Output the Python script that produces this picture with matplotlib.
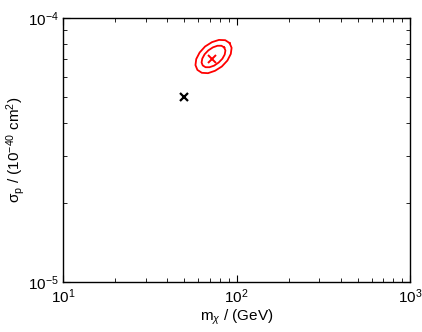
import matplotlib
matplotlib.use("Agg")
import matplotlib.pyplot as plt

plt.rcParams['font.family'] = ['Liberation Sans', 'DejaVu Sans']
plt.rcParams['mathtext.fontset'] = 'custom'
plt.rcParams['mathtext.rm'] = 'Liberation Sans'
plt.rcParams['mathtext.it'] = 'Liberation Sans:italic'
plt.rcParams['mathtext.sf'] = 'Liberation Sans'

# benchmark point (black) and best fit (red)
bench_m = [50.0]
bench_sigma = [5.0e-5]
fit_m = [72.0]
fit_sigma = [7.0e-5]

# contour vertices (m in GeV, sigma in 1e-40 cm^2)
outer_m = [91.2, 86.1, 79.2, 72.2, 65.9, 61.3, 58.6, 58.0,
           59.5, 63.1, 68.5, 75.2, 82.3, 88.6, 92.7, 93.7]
outer_sigma = [8.04e-5, 8.24e-5, 8.26e-5, 8.10e-5, 7.80e-5, 7.40e-5, 6.99e-5, 6.63e-5,
               6.36e-5, 6.20e-5, 6.18e-5, 6.31e-5, 6.55e-5, 6.90e-5, 7.31e-5, 7.71e-5]
inner_m = [85.0, 81.9, 77.7, 73.1, 68.8, 65.5, 63.5, 62.9,
           63.9, 66.3, 69.9, 74.3, 78.9, 82.9, 85.5, 86.3]
inner_sigma = [7.73e-5, 7.85e-5, 7.85e-5, 7.74e-5, 7.54e-5, 7.29e-5, 7.02e-5, 6.78e-5,
               6.61e-5, 6.51e-5, 6.51e-5, 6.60e-5, 6.78e-5, 7.01e-5, 7.27e-5, 7.53e-5]

fig = plt.figure(figsize=(4.22, 3.32), dpi=100)
ax = fig.add_axes([0.1493, 0.1506, 0.8223, 0.7952])

for xs, ys in [(outer_m, outer_sigma), (inner_m, inner_sigma)]:
    ax.plot(xs + xs[:1], ys + ys[:1], color='red', lw=1.3)

ax.plot(fit_m, fit_sigma, 'x', color='red', ms=6, mew=1.4)
ax.plot(bench_m, bench_sigma, 'x', color='black', ms=6, mew=1.6)

ax.set_xscale('log')
ax.set_yscale('log')
ax.set_xlim(10, 1000)
ax.set_ylim(1e-5, 1e-4)

ax.tick_params(which='both', direction='in', top=True, right=True, labelsize=11)
ax.tick_params(which='major', length=5, width=0.8)
ax.tick_params(which='minor', length=3, width=0.6)
ax.tick_params(axis='x', which='major', pad=4)
ax.tick_params(axis='y', which='major', pad=3)
ax.tick_params(axis='y', which='minor', labelleft=False)
for s in ax.spines.values():
    s.set_linewidth(1.0)

ax.set_xlabel(r'm$_\chi$ / (GeV)', fontsize=11, labelpad=1)
ax.set_ylabel(r'σ$_\mathrm{p}$ / (10$^{-40}$ cm$^2$)', fontsize=11)
ax.yaxis.set_label_coords(-0.104, 0.5)

fig.savefig('out.png', dpi=100)
